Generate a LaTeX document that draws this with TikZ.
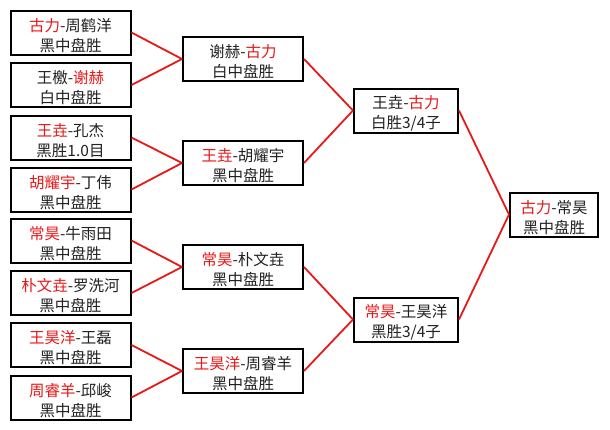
\documentclass[tikz,border=0pt]{standalone}
\usepackage{fontspec}
\setmainfont{Noto Sans CJK SC}
\definecolor{winred}{RGB}{232,24,24}
\definecolor{txt}{RGB}{34,34,34}
\newcommand{\rd}[1]{\textcolor{winred}{#1}}
\newcommand{\topst}{\rule{0pt}{18.5pt}}
\begin{document}
\begin{tikzpicture}[x=1pt,y=-1pt,
  mbox/.style={draw=black,line width=2pt,fill=white,inner sep=0pt,align=center,
    text=txt,font=\fontsize{15.5}{20}\selectfont,minimum height=44pt},
  r1/.style={mbox,minimum width=120pt},
  r2/.style={mbox,minimum width=120pt},
  r3/.style={mbox,minimum width=104pt},
  r4/.style={mbox,minimum width=88pt},
  link/.style={draw=winred,line width=1.8pt}]
\fill[white] (0,0) rectangle (610,429);
\useasboundingbox (0,0) rectangle (610,429);
% round 1
\node[r1] (a1) at (70.5,32.5) {\topst\rd{古力}-周鹤洋\\黑中盘胜};
\node[r1] (a2) at (70.5,85) {\topst 王檄-\rd{谢赫}\\白中盘胜};
\node[r1] (a3) at (70.5,137.5) {\topst\rd{王垚}-孔杰\\黑胜1.0目};
\node[r1] (a4) at (70.5,189.5) {\topst\rd{胡耀宇}-丁伟\\黑中盘胜};
\node[r1] (a5) at (70.5,240.5) {\topst\rd{常昊}-牛雨田\\黑中盘胜};
\node[r1] (a6) at (70.5,293) {\topst\rd{朴文垚}-罗洗河\\黑中盘胜};
\node[r1] (a7) at (70.5,345) {\topst\rd{王昊洋}-王磊\\黑中盘胜};
\node[r1] (a8) at (70.5,397.5) {\topst\rd{周睿羊}-邱峻\\黑中盘胜};
% round 2
\node[r2] (b1) at (243,59) {\topst 谢赫-\rd{古力}\\白中盘胜};
\node[r2] (b2) at (243,163) {\topst\rd{王垚}-胡耀宇\\黑中盘胜};
\node[r2] (b3) at (243,267) {\topst\rd{常昊}-朴文垚\\黑中盘胜};
\node[r2] (b4) at (243,371) {\topst\rd{王昊洋}-周睿羊\\黑中盘胜};
% round 3
\node[r3] (c1) at (406,110.5) {\topst 王垚-\rd{古力}\\白胜3/4子};
\node[r3] (c2) at (406,319.5) {\topst\rd{常昊}-王昊洋\\黑胜3/4子};
% final
\node[r4] (d1) at (554,214.5) {\topst\rd{古力}-常昊\\黑中盘胜};
% connectors
\draw[link] (a1.east) -- (b1.west);
\draw[link] (a2.east) -- (b1.west);
\draw[link] (a3.east) -- (b2.west);
\draw[link] (a4.east) -- (b2.west);
\draw[link] (a5.east) -- (b3.west);
\draw[link] (a6.east) -- (b3.west);
\draw[link] (a7.east) -- (b4.west);
\draw[link] (a8.east) -- (b4.west);
\draw[link] (b1.east) -- (c1.west);
\draw[link] (b2.east) -- (c1.west);
\draw[link] (b3.east) -- (c2.west);
\draw[link] (b4.east) -- (c2.west);
\draw[link] (c1.east) -- (d1.west);
\draw[link] (c2.east) -- (d1.west);
\end{tikzpicture}
\end{document}
